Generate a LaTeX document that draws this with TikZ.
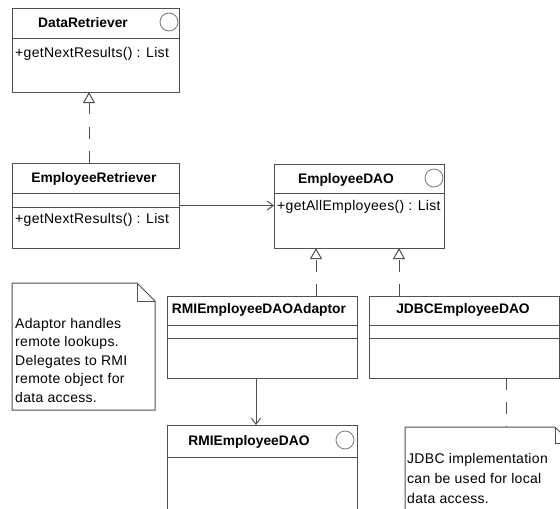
\documentclass[tikz,border=0pt]{standalone}
\usepackage{fontspec}
\setmainfont{Liberation Sans}
\newfontfamily\umltext{Liberation Sans}[LetterSpace=2.2]
\newfontfamily\umltitle{Liberation Sans}
\usetikzlibrary{arrows.meta}

\definecolor{linecol}{RGB}{80,80,80}
\definecolor{iconcol}{RGB}{120,120,120}

\tikzset{
  classbox/.style={draw=linecol, line width=1pt, anchor=north west,
    inner sep=0pt, outer sep=0pt},
  divider/.style={draw=linecol, line width=1pt},
  title/.style={anchor=base, inner sep=0pt,
    font=\umltitle\bfseries\fontsize{13.8}{16}\selectfont},
  member/.style={anchor=base west, inner sep=0pt,
    font=\umltext\fontsize{14}{16}\selectfont},
  iface/.style={circle, draw=iconcol, line width=0.8pt, minimum size=18pt,
    inner sep=0pt},
  realize/.style={draw=linecol, line width=1pt, dash pattern=on 12pt off 12.5pt,
    -{Triangle[open, length=11pt, width=12pt, line width=1pt]}},
  assoc/.style={draw=linecol, line width=1pt,
    -{Straight Barb[length=6pt, width=9pt, line width=1pt]}},
  notelink/.style={draw=linecol, line width=1pt, dash pattern=on 12pt off 12pt},
  noteshape/.style={draw=linecol, line width=1pt, fill=white},
  notetext/.style={anchor=north west, inner sep=0pt, align=left,
    font=\umltext\fontsize{14}{18.5}\selectfont},
}

\begin{document}
\begin{tikzpicture}[x=1pt, y=-1pt]
  \useasboundingbox (0,0) rectangle (560,509);
  \fill[white] (0,0) rectangle (560,509);
  \clip (0,0) rectangle (560,509);

  % DataRetriever interface
  \node[classbox, minimum width=167pt, minimum height=84pt] (dr) at (12,8) {};
  \draw[divider] (12,38) -- (179,38);
  \node[title] (drt) at (83,27) {DataRetriever};
  \begin{scope}
    \clip (12,8) rectangle (179,38);
    \node[iface] (dri) at (169,22) {};
  \end{scope}
  \node[member] (drm) at (15,57) {+getNextResults() : List};

  % EmployeeRetriever class
  \node[classbox, minimum width=167pt, minimum height=85pt] (er) at (12,163) {};
  \draw[divider] (12,193) -- (179,193);
  \draw[divider] (12,207) -- (179,207);
  \node[title] (ert) at (94,182) {EmployeeRetriever};
  \node[member] (erm) at (15,223) {+getNextResults() : List};

  % EmployeeDAO interface
  \node[classbox, minimum width=170pt, minimum height=84pt] (dao) at (274,164) {};
  \draw[divider] (274,193) -- (444,193);
  \node[title] (daot) at (346,183) {EmployeeDAO};
  \begin{scope}
    \clip (274,164) rectangle (444,193);
    \node[iface] (daoi) at (434,178) {};
  \end{scope}
  \node[member] (daom) at (277,210) {+getAllEmployees() : List};

  % RMIEmployeeDAOAdaptor class
  \node[classbox, minimum width=190pt, minimum height=82pt] (ada) at (167,296) {};
  \draw[divider] (167,325) -- (357,325);
  \draw[divider] (167,338) -- (357,338);
  \node[title] (adat) at (259,313) {RMIEmployeeDAOAdaptor};

  % JDBCEmployeeDAO class
  \node[classbox, minimum width=190pt, minimum height=82pt] (jdbc) at (369,296) {};
  \draw[divider] (369,325) -- (559,325);
  \draw[divider] (369,338) -- (559,338);
  \node[title] (jdbct) at (463,313) {JDBCEmployeeDAO};

  % RMIEmployeeDAO interface
  \node[classbox, minimum width=190pt, minimum height=110pt] (rmi) at (167,425) {};
  \draw[divider] (167,457) -- (357,457);
  \node[title] (rmit) at (249,445) {RMIEmployeeDAO};
  \begin{scope}
    \clip (167,425) rectangle (357,457);
    \node[iface] (rmii) at (345,440) {};
  \end{scope}

  % note on the adaptor
  \draw[noteshape] (12,283) -- (137,283) -- (155,301) -- (155,410) -- (12,410) -- cycle;
  \draw[divider] (137,283) -- (137,301) -- (155,301);
  \node[notetext] (n1) at (15,318) {Adaptor handles\\remote lookups.\\Delegates to RMI\\remote object for\\data access.};

  % note on the JDBC implementation
  \draw[noteshape] (405,427) -- (555,427) -- (571,443) -- (571,530) -- (405,530) -- cycle;
  \draw[divider] (555,427) -- (555,443) -- (571,443);
  \coordinate (n2top) at (506,427);
  \node[notetext, font=\umltext\fontsize{14}{20}\selectfont] (n2) at (407,453) {JDBC implementation\\can be used for local\\data access.};

  % connectors
  \draw[realize] ([xshift=77pt]er.north west) -- ([xshift=77pt]dr.south west);
  \draw[assoc] (er.east) -- (er.east -| dao.west);
  \draw[realize] ([xshift=149pt]ada.north west) -- ([xshift=42pt]dao.south west);
  \draw[realize] ([xshift=30pt]jdbc.north west) -- ([xshift=125pt]dao.south west);
  \draw[assoc] ([xshift=89pt]ada.south west) -- ([xshift=89pt]rmi.north west);
  \draw[notelink] ([xshift=137pt]jdbc.south west) -- (n2top);
\end{tikzpicture}
\end{document}
